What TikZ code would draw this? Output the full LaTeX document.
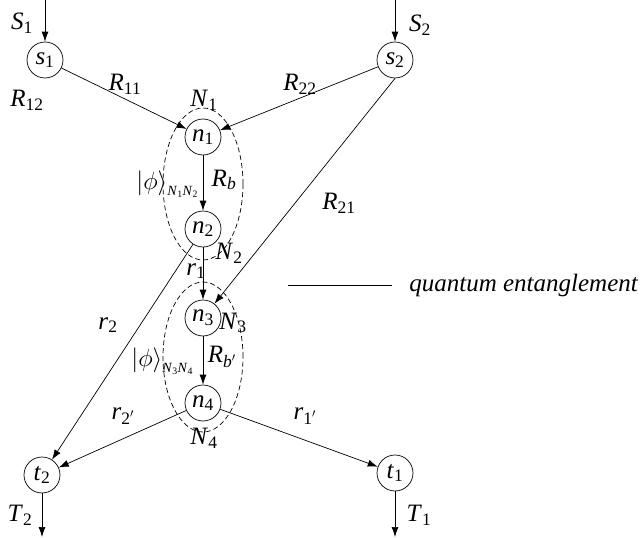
\documentclass[tikz,border=0pt]{standalone}
\usepackage{fontspec}
\setmainfont{Liberation Serif}
\usetikzlibrary{arrows.meta,shapes.geometric}
\newcommand\sub[2]{\textit{#1}\textsubscript{#2}}
\newcommand\ketphi[1]{$\bigl|\phi\bigr\rangle$\raisebox{-6pt}{\fontsize{14}{16}\selectfont#1}}
\begin{document}
\begin{tikzpicture}[x=1pt,y=-1pt,
  font=\fontsize{25}{30}\selectfont,
  >={Latex[length=10pt,width=7pt]},
  line width=0.7pt,
  state/.style={draw,circle,minimum size=36pt,inner sep=0pt},
  lbl/.style={inner sep=0pt},
  pair/.style={draw,dash pattern=on 5pt off 3pt,ellipse,minimum width=80pt,inner sep=0pt}]
\useasboundingbox (0,0) rectangle (641,538);
% sources, relays, sinks
\node[state] (s1) at (45,60) {\sub{s}{1}};
\node[state] (s2) at (395,60) {\sub{s}{2}};
\node[state] (n1) at (203,137) {\sub{n}{1}};
\node[state] (n2) at (203,229) {\sub{n}{2}};
\node[state] (n3) at (203,318) {\sub{n}{3}};
\node[state] (n4) at (203,403) {\sub{n}{4}};
\node[state] (t2) at (42,475) {\sub{t}{2}};
\node[state] (t1) at (395,473) {\sub{t}{1}};
% entangled pairs
\node[pair, minimum height=152pt] (e12) at (203,184) {};
\node[pair, minimum height=150pt] (e34) at (203,357) {};
\coordinate (in1) at (45,0);
\coordinate (in2) at (395,0);
\coordinate (out2) at (42,537);
\coordinate (out1) at (395,537);
\draw[->] (in1) -- (s1);
\draw[->] (in2) -- (s2);
\draw[->] (s1) -- (n1);
\draw[->] (s2) -- (n1);
\draw[->] (s2.south) -- (n3);
\draw[->] (n1) -- (n2);
\draw[->] (n2) -- (n3);
\draw[->] (n2) -- (t2);
\draw[->] (n3) -- (n4);
\draw[->] (n4) -- (t2);
\draw[->] (n4) -- (t1);
\draw[->] (t2) -- (out2);
\draw[->] (t1) -- (out1);
% labels
\node[lbl] (lS1) at (22,23) {\sub{S}{1}};
\node[lbl] (lS2) at (420,25) {\sub{S}{2}};
\node[lbl] (lR11) at (125,84) {\sub{R}{11}};
\node[lbl] (lR12) at (27,100) {\sub{R}{12}};
\node[lbl] (lR22) at (300,84) {\sub{R}{22}};
\node[lbl] (lN1) at (204,100) {\sub{N}{1}};
\node[lbl] (lRb) at (224,180) {\sub{R}{\textit{b}}};
\node[lbl] (lR21) at (339,203) {\sub{R}{21}};
\node[lbl] (lN2) at (229,253) {\sub{N}{2}};
\node[lbl] (lr1) at (196,271) {\sub{r}{1}};
\node[lbl] (lN3) at (233,323) {\sub{N}{3}};
\node[lbl] (lr2) at (108,325) {\sub{r}{2}};
\node[lbl] (lRb2) at (222,357) {\sub{R}{\textit{b}$'$}};
\node[lbl] (lr22) at (123,416) {\sub{r}{2$'$}};
\node[lbl] (lr11) at (305,416) {\sub{r}{1$'$}};
\node[lbl] (lN4) at (204,438) {\sub{N}{4}};
\node[lbl] (lT2) at (20,515) {\sub{T}{2}};
\node[lbl] (lT1) at (419,515) {\sub{T}{1}};
\node[lbl, anchor=west] (k12) at (136,184) {\ketphi{\sub{N}{1}\sub{N}{2}}};
\node[lbl, anchor=west] (k34) at (131,361) {\ketphi{\sub{N}{3}\sub{N}{4}}};
% legend
\coordinate (qa) at (288,285);
\coordinate (qb) at (392,285);
\draw (qa) -- (qb);
\node[lbl, anchor=west] (qtext) at (409,285) {\textit{quantum entanglement}};
\end{tikzpicture}
\end{document}
